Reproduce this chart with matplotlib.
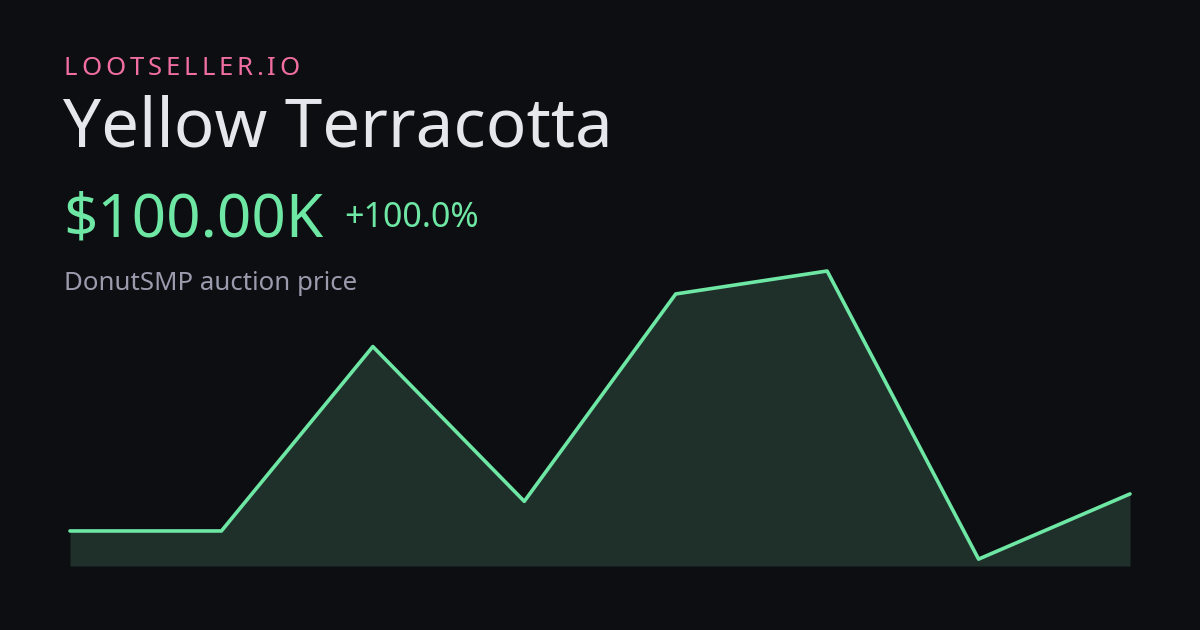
import matplotlib
matplotlib.use("Agg")
import matplotlib.pyplot as plt

# Data (prices in thousands)
points = [0, 1, 2, 3, 4, 5, 6, 7]
prices_k = [50, 50, 299, 90, 370, 401, 12, 100]
y_floor = 2.7

site = "LOOTSELLER.IO"
title = "Yellow Terracotta"
price_label = "$100.00K"
change_label = "+100.0%"
subtitle = "DonutSMP auction price"

W, H = 1200, 630
BG = "#0d0e12"
LINE = "#6ee7a5"
FILL = "#1f302b"

fig = plt.figure(figsize=(12, 6.3), dpi=100, facecolor=BG)

def fx(px):
    return px / W

def fy(py):
    return 1 - py / H

# Chart axes (pixel box: x 70..1130, y 271..566)
ax = fig.add_axes([fx(70), fy(566), fx(1130) - fx(70), (566 - 271) / H])
ax.set_facecolor("none")
ax.fill_between(points, prices_k, y_floor, color=FILL, linewidth=0)
ax.plot(points, prices_k, color=LINE, linewidth=2.6, solid_joinstyle="round",
        solid_capstyle="round", clip_on=False)
ax.set_xlim(points[0], points[-1])
ax.set_ylim(y_floor, max(prices_k))
ax.axis("off")

font = "Noto Sans"
renderer = fig.canvas.get_renderer()

# letter-spaced site label
x = 64.0
spacing = 3.85
for ch in site:
    t = fig.text(fx(x), fy(75), ch, color="#f06ea2", fontsize=18.5,
                 family=font, va="baseline", ha="left")
    w = t.get_window_extent(renderer=renderer).width
    x += w + spacing

fig.text(fx(63), fy(146), title, color="#e6e7ec", fontsize=48.4,
         family=font, va="baseline", ha="left")
fig.text(fx(63), fy(237), price_label, color="#6ee7a5", fontsize=43.3,
         family=font, va="baseline", ha="left")
fig.text(fx(344), fy(227), change_label, color="#6ee7a5", fontsize=24.5,
         family=font, va="baseline", ha="left")
fig.text(fx(64), fy(290), subtitle, color="#9a9cae", fontsize=18.6,
         family=font, va="baseline", ha="left")

fig.savefig("out.png", dpi=100, facecolor=BG)
